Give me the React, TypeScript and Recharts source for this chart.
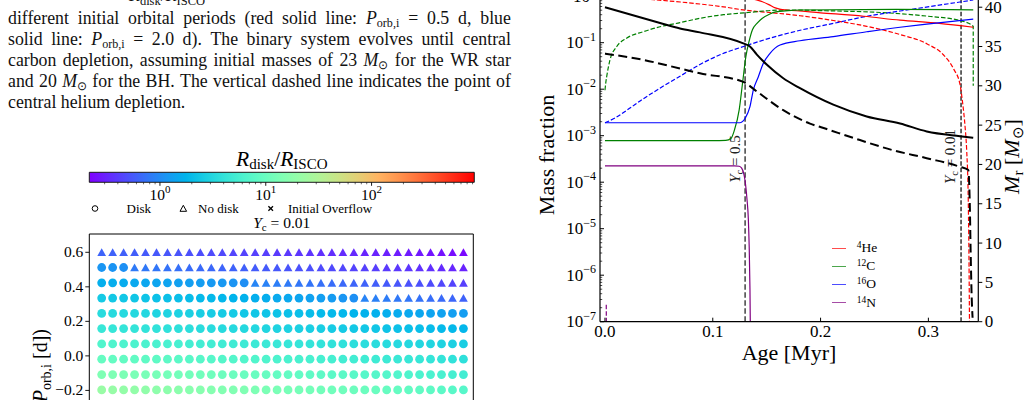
import React from "react";
import {
  ComposedChart,
  ScatterChart,
  Scatter,
  Line,
  Area,
  XAxis,
  YAxis,
  ReferenceLine,
  ReferenceArea,
  Legend,
} from "recharts";

const SERIF = '"Liberation Serif", "Times New Roman", Times, serif';

// ---------- disk formation grid at Y_c = 0.01 ----------
// log10 of the initial orbital period, one value per grid row (top to bottom)
const periodRows = [0.6, 0.512, 0.423, 0.335, 0.246, 0.158, 0.069, -0.019, -0.108, -0.197];
// column index of each model along the (hidden) horizontal axis
const gridCols = [
  0, 1, 2, 3, 4, 5, 6, 7, 8, 9, 10, 11, 12, 13, 14, 15, 16, 17, 18, 19, 20, 21, 22, 23, 24, 25, 26,
  27, 28, 29, 30, 31, 32, 33,
];
// log10(R_disk / R_ISCO) for every model, rows as in periodRows
const ratioRows: number[][] = [
  [-0.2, -0.21, -0.22, -0.23, -0.25, -0.26, -0.27, -0.28, -0.3, -0.31, -0.32, -0.33, -0.35, -0.36, -0.37, -0.38, -0.4, -0.41, -0.42, -0.43, -0.45, -0.46, -0.47, -0.48, -0.5, -0.51, -0.52, -0.54, -0.55, -0.56, -0.58, -0.59, -0.61, -0.63],
  [0.06, 0.05, 0.03, -0.09, -0.1, -0.11, -0.13, -0.14, -0.16, -0.17, -0.18, -0.2, -0.21, -0.22, -0.24, -0.25, -0.26, -0.28, -0.29, -0.3, -0.32, -0.33, -0.34, -0.36, -0.37, -0.38, -0.4, -0.41, -0.42, -0.44, -0.45, -0.47, -0.49, -0.51],
  [0.21, 0.2, 0.19, 0.17, 0.16, 0.15, 0.14, 0.12, 0.11, 0.1, 0.08, 0.07, 0.05, 0.02, -0.03, -0.05, -0.07, -0.09, -0.11, -0.12, -0.14, -0.16, -0.18, -0.2, -0.21, -0.23, -0.25, -0.27, -0.29, -0.3, -0.32, -0.34, -0.36, -0.38],
  [0.39, 0.38, 0.37, 0.36, 0.35, 0.33, 0.32, 0.31, 0.3, 0.28, 0.27, 0.26, 0.24, 0.23, 0.21, 0.2, 0.18, 0.17, 0.15, 0.13, 0.11, 0.09, 0.06, 0.03, -0.04, -0.06, -0.08, -0.1, -0.11, -0.13, -0.15, -0.17, -0.19, -0.21],
  [0.53, 0.52, 0.51, 0.5, 0.49, 0.47, 0.46, 0.45, 0.44, 0.42, 0.41, 0.4, 0.39, 0.37, 0.36, 0.35, 0.34, 0.32, 0.31, 0.3, 0.28, 0.27, 0.26, 0.24, 0.23, 0.22, 0.2, 0.19, 0.17, 0.16, 0.14, 0.13, 0.11, 0.1],
  [0.64, 0.63, 0.62, 0.61, 0.6, 0.59, 0.58, 0.57, 0.56, 0.54, 0.53, 0.52, 0.51, 0.5, 0.49, 0.48, 0.46, 0.45, 0.44, 0.43, 0.42, 0.4, 0.39, 0.38, 0.37, 0.36, 0.34, 0.33, 0.32, 0.31, 0.29, 0.28, 0.27, 0.26],
  [0.82, 0.81, 0.8, 0.79, 0.78, 0.77, 0.76, 0.75, 0.73, 0.72, 0.71, 0.7, 0.69, 0.68, 0.67, 0.66, 0.65, 0.63, 0.62, 0.61, 0.6, 0.59, 0.58, 0.56, 0.55, 0.54, 0.53, 0.51, 0.5, 0.49, 0.48, 0.46, 0.44, 0.42],
  [0.97, 0.96, 0.95, 0.94, 0.93, 0.92, 0.91, 0.9, 0.88, 0.87, 0.86, 0.85, 0.84, 0.83, 0.82, 0.81, 0.79, 0.78, 0.77, 0.76, 0.75, 0.74, 0.72, 0.71, 0.7, 0.69, 0.68, 0.66, 0.65, 0.64, 0.62, 0.61, 0.59, 0.57],
  [1.15, 1.14, 1.13, 1.12, 1.11, 1.1, 1.08, 1.07, 1.06, 1.05, 1.04, 1.02, 1.01, 1.0, 0.99, 0.98, 0.96, 0.95, 0.94, 0.93, 0.91, 0.9, 0.89, 0.88, 0.86, 0.85, 0.84, 0.82, 0.81, 0.79, 0.78, 0.76, 0.74, 0.72],
  [1.33, 1.32, 1.3, 1.29, 1.28, 1.26, 1.25, 1.24, 1.22, 1.21, 1.2, 1.18, 1.17, 1.16, 1.14, 1.13, 1.12, 1.1, 1.09, 1.08, 1.06, 1.05, 1.04, 1.02, 1.01, 1.0, 0.98, 0.97, 0.95, 0.94, 0.92, 0.9, 0.88, 0.86],
];
const pTicks = [-0.6, -0.4, -0.2, 0, 0.2, 0.4, 0.6];

// colour bar range of R_disk / R_ISCO
const cbMin = 0.215;
const cbMax = 935;

// ---------- abundance evolution, [age (Myr), value] ----------
const he4Surface = [[0, 0.98], [0.1, 0.978], [0.12, 0.97], [0.128, 0.95], [0.134, 0.9], [0.1407, 0.83], [0.146, 0.76], [0.152, 0.66], [0.158, 0.56], [0.163, 0.52], [0.1687, 0.505], [0.2, 0.44], [0.24, 0.37], [0.2737, 0.305], [0.31, 0.26], [0.3416, 0.215]];
const he4Center = [[0, 0.98], [0.02, 0.93], [0.045, 0.84], [0.07, 0.75], [0.088, 0.68], [0.11, 0.59], [0.13, 0.5], [0.155, 0.44], [0.181, 0.38], [0.2118, 0.3], [0.2428, 0.225], [0.2737, 0.15], [0.2985, 0.095], [0.3139, 0.055], [0.3235, 0.027], [0.3293, 0.0128], [0.3318, 0.005], [0.334, 0.0016], [0.3355, 5e-4], [0.337, 4e-5], [0.3378, 1e-6], [0.3384, 1e-8]];
const c12Surface = [[0, 7.8e-4], [0.1, 7.8e-4], [0.112, 7.9e-4], [0.117, 8.8e-4], [0.12, 1.3e-3], [0.1245, 3.6e-3], [0.1276, 0.0134], [0.1307, 0.05], [0.1338, 0.11], [0.1368, 0.19], [0.141, 0.26], [0.146, 0.335], [0.1525, 0.41], [0.1585, 0.46], [0.17, 0.49], [0.18, 0.505], [0.27, 0.52], [0.3416, 0.51]];
const c12Center = [[0, 0.0095], [0.0008, 0.014], [0.0016, 0.0186], [0.0046, 0.042], [0.0108, 0.082], [0.02, 0.125], [0.0355, 0.172], [0.051, 0.22], [0.0696, 0.27], [0.0881, 0.335], [0.11, 0.4], [0.13, 0.44], [0.1594, 0.5], [0.175, 0.505], [0.2, 0.49], [0.2674, 0.43], [0.3, 0.37], [0.3293, 0.3], [0.3416, 0.225], [0.34161, 0.0118]];
const o16Surface = [[0, 1.9e-3], [0.1253, 1.9e-3], [0.128, 2.05e-3], [0.13, 2.37e-3], [0.1345, 4.2e-3], [0.1376, 9.6e-3], [0.1423, 0.0186], [0.1469, 0.036], [0.1531, 0.059], [0.1624, 0.089], [0.1809, 0.11], [0.2118, 0.135], [0.2428, 0.172], [0.2737, 0.215], [0.2985, 0.25], [0.3416, 0.32]];
const o16Center = [[0, 1.9e-3], [0.0093, 2.4e-3], [0.0201, 3.5e-3], [0.0355, 6.2e-3], [0.051, 0.0105], [0.0696, 0.019], [0.0881, 0.034], [0.1067, 0.055], [0.13, 0.085], [0.153, 0.125], [0.181, 0.185], [0.2118, 0.26], [0.2428, 0.37], [0.2737, 0.48], [0.3016, 0.6], [0.3293, 0.75], [0.3416, 0.83]];
const n14Surface = [[0, 2.25e-4], [0.12, 2.25e-4], [0.1245, 2.2e-4], [0.1268, 2.0e-4], [0.1285, 1.6e-4], [0.1299, 1.1e-4], [0.1317, 4.4e-5], [0.133, 1.6e-5], [0.1338, 4e-6], [0.1345, 5e-7], [0.1352, 1e-8]];
const n14Center = [[0.0012, 2.3e-7], [0.0015, 1e-8]];
// mass coordinates (right axis, M_sun)
const massOuter = [[0, 40.0], [0.0511, 38.0], [0.0696, 37.3], [0.0881, 36.8], [0.1283, 35.4], [0.1345, 35.0], [0.1407, 34.0], [0.15, 32.7], [0.1654, 30.96], [0.1809, 29.7], [0.2118, 27.6], [0.2428, 26.1], [0.2737, 25.2], [0.2985, 24.2], [0.3293, 23.6], [0.3416, 23.4]];
const massInner = [[0, 34.1], [0.0355, 33.3], [0.0696, 32.2], [0.0881, 31.6], [0.1283, 30.5], [0.1407, 29.3], [0.1654, 26.9], [0.1902, 25.2], [0.2057, 24.5], [0.2365, 23.1], [0.2674, 21.8], [0.2984, 20.8], [0.3293, 19.7], [0.337, 19.3], [0.3384, 15], [0.3392, 9], [0.3402, 3], [0.341, 0.5]];

const ageTicks = [0, 0.1, 0.2, 0.3];
const massTicks = [0, 5, 10, 15, 20, 25, 30, 35, 40];
const ycHalf = 0.13; // Y_c = 0.5
const ycEnd = 0.3303; // Y_c = 0.01

const isotopes = [
  { mass: "4", el: "He", color: "#ff0000" },
  { mass: "12", el: "C", color: "#008000" },
  { mass: "16", el: "O", color: "#0000ff" },
  { mass: "14", el: "N", color: "#800080" },
];

const toPts = (arr: number[][]) => arr.map(([age, v]) => ({ age, v }));

// matplotlib "rainbow" colormap
function rainbow(t: number) {
  const c = Math.min(1, Math.max(0, t));
  const r = Math.min(1, Math.abs(2 * c - 0.5));
  const g = Math.sin(Math.PI * c);
  const b = Math.cos((Math.PI * c) / 2);
  return `rgb(${Math.round(r * 255)},${Math.round(g * 255)},${Math.round(b * 255)})`;
}
const lgMin = Math.log10(cbMin);
const lgMax = Math.log10(cbMax);
const ratioColor = (lr: number) => rainbow((lr - lgMin) / (lgMax - lgMin));

function logTicks(lo: number, hi: number) {
  const out: number[] = [];
  for (let e = Math.floor(Math.log10(lo)); e <= Math.ceil(Math.log10(hi)); e++) {
    for (let k = 1; k < 10; k++) {
      const v = k * Math.pow(10, e);
      if (v >= lo * 0.999 && v <= hi * 1.001) out.push(v);
    }
  }
  return out;
}
const isDecade = (v: number) => Math.abs(Math.log10(v) - Math.round(Math.log10(v))) < 1e-6;

const gridPoints = periodRows.flatMap((logP, r) =>
  gridCols.map((col) => ({ col, logP, logRatio: ratioRows[r][col] }))
);

// ---------- caption text ----------
const Porb = () => (
  <span>
    <i>P</i>
    <sub style={{ fontSize: "0.68em", verticalAlign: "-0.25em", lineHeight: 0 }}>orb,i</sub>
  </span>
);
const Msun = () => (
  <span>
    <i>M</i>
    <sub style={{ fontSize: "0.68em", verticalAlign: "-0.25em", lineHeight: 0 }}>⊙</sub>
  </span>
);
const captionLines: React.ReactNode[][] = [
  ["different", "initial", "orbital", "periods", "(red", "solid", "line:", <Porb />, "=", "0.5", "d,", "blue"],
  ["solid", "line:", <Porb />, "=", "2.0", "d).", "The", "binary", "system", "evolves", "until", "central"],
  ["carbon", "depletion,", "assuming", "initial", "masses", "of", "23", <Msun />, "for", "the", "WR", "star"],
  ["and", "20", <Msun />, "for", "the", "BH.", "The", "vertical", "dashed", "line", "indicates", "the", "point", "of"],
];

function Caption() {
  return (
    <div style={{ position: "absolute", left: 8, top: 0, width: 503, fontFamily: SERIF, fontSize: 17.8, lineHeight: "21px", color: "#111" }}>
      {captionLines.map((words, i) => (
        <div key={i} style={{ position: "absolute", top: 7.5 + 21 * i, left: 0, width: 503, display: "flex", justifyContent: "space-between", alignItems: "baseline", columnGap: 3, whiteSpace: "nowrap" }}>
          {words.map((w, j) => (
            <span key={j}>{w}</span>
          ))}
        </div>
      ))}
      <div style={{ position: "absolute", top: 7.5 + 21 * 4, left: 0, whiteSpace: "nowrap" }}>central helium depletion.</div>
    </div>
  );
}

// ---------- left panel pieces ----------
const CbTick = ({ x, y, payload }: any) => {
  const major = isDecade(payload.value);
  return (
    <g>
      <line x1={x} x2={x} y1={y} y2={y + (major ? 3.5 : 2)} stroke="#000" strokeWidth={major ? 0.9 : 0.6} />
      {major && (
        <text x={x} y={y + 17.5} textAnchor="middle" fontFamily={SERIF} fontSize={15.5} fill="#000">
          10<tspan dy={-6.5} fontSize={11}>{Math.round(Math.log10(payload.value))}</tspan>
        </text>
      )}
    </g>
  );
};

const cbSpan = [
  { x: cbMin, y: 1 },
  { x: cbMax, y: 1 },
];

function ColorBar() {
  return (
    <ComposedChart width={520} height={72} data={cbSpan} margin={{ top: 32.3, right: 45.7, bottom: 0, left: 89.3 }}>
      <XAxis dataKey="x" type="number" scale="log" domain={[cbMin, cbMax]} allowDataOverflow ticks={logTicks(cbMin, cbMax)} interval={0} axisLine={false} tickLine={false} tickSize={0} tickMargin={0} tick={<CbTick />} height={29.7} />
      <YAxis hide type="number" domain={[0, 1]} allowDataOverflow />
      <Area dataKey="y" type="linear" baseValue={0} fill="url(#rainbowGrad)" fillOpacity={1} stroke="none" dot={false} activeDot={false} isAnimationActive={false} />
      <ReferenceArea x1={cbMin} x2={cbMax} y1={0} y2={1} fill="none" stroke="#000" strokeWidth={0.9} ifOverflow="visible" />
    </ComposedChart>
  );
}

const PTick = ({ x, y, payload }: any) => (
  <g>
    <line x1={x} x2={x - 4} y1={y} y2={y} stroke="#000" strokeWidth={0.9} />
    <text x={x - 6} y={y + 5} textAnchor="end" fontFamily={SERIF} fontSize={15.5} fill="#000">
      {payload.value.toFixed(1).replace("-", "\u2212")}
    </text>
  </g>
);

const GridMarker = (props: any) => {
  const { cx, cy, payload } = props;
  const fill = ratioColor(payload.logRatio);
  if (payload.logRatio > 0) return <circle cx={cx} cy={cy} r={4.4} fill={fill} />;
  return <path d={`M${cx},${cy - 4} L${cx + 4.4},${cy + 3.8} L${cx - 4.4},${cy + 3.8} Z`} fill={fill} />;
};

const PeriodLabel = () => (
  <text transform="translate(47,329) rotate(-90)" textAnchor="end" fontFamily={SERIF} fontSize={20} fill="#000">
    log(<tspan fontStyle="italic">P</tspan>
    <tspan fontSize={14} dy={4}>orb,i</tspan>
    <tspan dy={-4}> [d])</tspan>
  </text>
);

function DiskGrid() {
  return (
    <ScatterChart width={520} height={500} margin={{ top: 234, right: 46.7, bottom: 6, left: 0 }}>
      <XAxis type="number" dataKey="col" domain={[-1.13, 33.9]} allowDataOverflow hide />
      <YAxis type="number" dataKey="logP" domain={[-0.8, 0.706]} allowDataOverflow ticks={pTicks} interval={0} width={89.3} axisLine={false} tickLine={false} tickSize={0} tickMargin={0} tick={<PTick />} label={<PeriodLabel />} />
      <ReferenceArea x1={-1.13} x2={33.9} y1={-0.8} y2={0.706} fill="none" stroke="#000" strokeWidth={1} ifOverflow="visible" />
      <Scatter data={gridPoints} shape={(p: any) => <GridMarker {...p} />} isAnimationActive={false} />
    </ScatterChart>
  );
}

function GridAnnotations() {
  return (
    <svg width={520} height={240} style={{ position: "absolute", left: 0, top: 0 }} fontFamily={SERIF}>
      <defs>
        <linearGradient id="rainbowGrad" x1="0" x2="1" y1="0" y2="0">
          {Array.from({ length: 21 }, (_, i) => (
            <stop key={i} offset={i / 20} stopColor={rainbow(i / 20)} />
          ))}
        </linearGradient>
      </defs>
      <text x={129} y={1} fontSize={17.8} fill="#111">
        <tspan fontStyle="italic">R</tspan>
        <tspan fontSize={12.5} dy={3.5}>disk</tspan>
        <tspan dy={-3.5}>/</tspan>
        <tspan fontStyle="italic">R</tspan>
        <tspan fontSize={12.5} dy={3.5}>ISCO</tspan>
      </text>
      <text x={281.8} y={166} textAnchor="middle" fontSize={21.5} fill="#000">
        <tspan fontStyle="italic">R</tspan>
        <tspan fontSize={15} dy={3.3}>disk</tspan>
        <tspan dy={-3.3}>/</tspan>
        <tspan fontStyle="italic">R</tspan>
        <tspan fontSize={15} dy={3.3}>ISCO</tspan>
      </text>
      <circle cx={95} cy={208.5} r={2.8} fill="none" stroke="#000" strokeWidth={1} />
      <text x={126.5} y={212.7} fontSize={13} fill="#000">Disk</text>
      <path d="M183.3,205.3 L186.6,211.3 L180,211.3 Z" fill="none" stroke="#000" strokeWidth={1} />
      <text x={198} y={212.7} fontSize={13} fill="#000">No disk</text>
      <path d="M268.4,206.2 L273,210.8 M273,206.2 L268.4,210.8" stroke="#000" strokeWidth={1.3} />
      <text x={288} y={212.7} fontSize={13} fill="#000">Initial Overflow</text>
      <text x={281.8} y={228.3} textAnchor="middle" fontSize={15.5} fill="#000">
        <tspan fontStyle="italic">Y</tspan>
        <tspan fontSize={11} dy={3}>c</tspan>
        <tspan dy={-3}> = 0.01</tspan>
      </text>
    </svg>
  );
}

// ---------- abundance panel ----------
const FracTick = ({ x, y, payload }: any) => {
  const major = isDecade(payload.value);
  const p = Math.round(Math.log10(payload.value));
  return (
    <g>
      <line x1={x} x2={x + (major ? 4 : 2.2)} y1={y} y2={y} stroke="#000" strokeWidth={major ? 1 : 0.7} />
      {major && (
        <text x={x - 4} y={y + 5.5} textAnchor="end" fontFamily={SERIF} fontSize={17} fill="#000">
          10<tspan dy={-7.5} fontSize={12}>{p === 0 ? "0" : `\u2212${-p}`}</tspan>
        </text>
      )}
    </g>
  );
};

const MassTick = ({ x, y, payload }: any) => (
  <g>
    <line x1={x} x2={x + 4} y1={y} y2={y} stroke="#000" strokeWidth={1} />
    <text x={x + 6.5} y={y + 5.5} fontFamily={SERIF} fontSize={17} fill="#000">{payload.value}</text>
  </g>
);

const AgeTick = ({ x, y, payload }: any) => (
  <g>
    <line x1={x} x2={x} y1={y} y2={y - 4} stroke="#000" strokeWidth={1} />
    <text x={x} y={y + 15.5} textAnchor="middle" fontFamily={SERIF} fontSize={17} fill="#000">{payload.value.toFixed(1)}</text>
  </g>
);

const FracLabel = () => (
  <text transform="translate(34,199) rotate(-90)" textAnchor="middle" fontFamily={SERIF} fontSize={22} fill="#000">Mass fraction</text>
);
const MassLabel = () => (
  <text transform="translate(499,200.5) rotate(-90)" textAnchor="middle" fontFamily={SERIF} fontSize={22} fill="#000">
    <tspan fontStyle="italic">M</tspan>
    <tspan fontSize={15} dy={4}>r</tspan>
    <tspan dy={-4}> [</tspan>
    <tspan fontStyle="italic">M</tspan>
    <tspan fontSize={15} dy={4}>⊙</tspan>
    <tspan dy={-4}>]</tspan>
  </text>
);
const AgeLabel = () => (
  <text x={269} y={404} textAnchor="middle" fontFamily={SERIF} fontSize={22} fill="#000">Age [Myr]</text>
);

const ycLabel = (value: string, dx: number, yMid: number) => (props: any) => {
  const x = props.viewBox.x + dx;
  return (
    <text transform={`translate(${x},${yMid}) rotate(-90)`} textAnchor="middle" fontFamily={SERIF} fontSize={15} fill="#222">
      <tspan fontStyle="italic">Y</tspan>
      <tspan fontSize={10.5} dy={3}>c</tspan>
      <tspan dy={-3}> = {value}</tspan>
    </text>
  );
};

const IsoLegend = () => (
  <div style={{ fontFamily: SERIF, fontSize: 13.5, lineHeight: "18.1px", color: "#000" }}>
    {isotopes.map((iso) => (
      <div key={iso.el} style={{ display: "flex", alignItems: "center", height: 18.1 }}>
        <span style={{ display: "inline-block", width: 14.5, borderTop: `1.6px solid ${iso.color}`, opacity: 0.7, marginRight: 10.5 }} />
        <span>
          <sup style={{ fontSize: 9.5, verticalAlign: "0.45em", lineHeight: 0 }}>{iso.mass}</sup>
          {iso.el}
        </span>
      </div>
    ))}
  </div>
);

const solid = { strokeWidth: 1.2 };
const dashed = { strokeWidth: 1.2, strokeDasharray: "4.5 2" };

function AbundanceChart() {
  return (
    <ComposedChart width={510} height={425.7} margin={{ top: 40.2, right: 0, bottom: 0, left: 0 }}>
      <XAxis type="number" dataKey="age" domain={[-0.0046, 0.3463]} allowDataOverflow ticks={ageTicks} interval={0} height={60} axisLine={{ stroke: "#000", strokeWidth: 1.2 }} tickLine={false} tickSize={0} tickMargin={0} tick={<AgeTick />} label={<AgeLabel />} />
      <YAxis yAxisId="frac" type="number" scale="log" domain={[1e-7, 1]} allowDataOverflow ticks={logTicks(1e-7, 1)} interval={0} width={80} axisLine={{ stroke: "#000", strokeWidth: 1.2 }} tickLine={false} tickSize={0} tickMargin={0} tick={<FracTick />} label={<FracLabel />} />
      <YAxis yAxisId="mass" orientation="right" type="number" domain={[0, 41.4]} allowDataOverflow ticks={massTicks} interval={0} width={51.7} axisLine={{ stroke: "#000", strokeWidth: 1.2 }} tickLine={false} tickSize={0} tickMargin={0} tick={<MassTick />} label={<MassLabel />} />

      <ReferenceLine yAxisId="frac" x={ycHalf} stroke="#444" strokeWidth={1.5} strokeDasharray="5.5 2.5" label={ycLabel("0.5", -5, 203)} />
      <ReferenceLine yAxisId="frac" x={ycEnd} stroke="#000" strokeWidth={1.2} strokeDasharray="4.5 2" label={ycLabel("0.01", -6, 200.5)} />

      <Line yAxisId="frac" data={toPts(he4Center)} dataKey="v" type="monotone" stroke="#ff0000" {...dashed} dot={false} isAnimationActive={false} />
      <Line yAxisId="frac" data={toPts(c12Center)} dataKey="v" type="monotone" stroke="#008000" {...dashed} dot={false} isAnimationActive={false} />
      <Line yAxisId="frac" data={toPts(o16Center)} dataKey="v" type="monotone" stroke="#0000ff" {...dashed} dot={false} isAnimationActive={false} />
      <Line yAxisId="frac" data={toPts(n14Center)} dataKey="v" type="linear" stroke="#800080" {...dashed} dot={false} isAnimationActive={false} />
      <Line yAxisId="frac" data={toPts(he4Surface)} dataKey="v" type="monotone" stroke="#ff0000" {...solid} dot={false} isAnimationActive={false} />
      <Line yAxisId="frac" data={toPts(c12Surface)} dataKey="v" type="monotone" stroke="#008000" {...solid} dot={false} isAnimationActive={false} />
      <Line yAxisId="frac" data={toPts(o16Surface)} dataKey="v" type="monotone" stroke="#0000ff" {...solid} dot={false} isAnimationActive={false} />
      <Line yAxisId="frac" data={toPts(n14Surface)} dataKey="v" type="monotone" stroke="#800080" {...solid} dot={false} isAnimationActive={false} />
      <Line yAxisId="mass" data={toPts(massOuter)} dataKey="v" type="monotone" stroke="#000" strokeWidth={2} dot={false} isAnimationActive={false} />
      <Line yAxisId="mass" data={toPts(massInner)} dataKey="v" type="monotone" stroke="#000" strokeWidth={2} strokeDasharray="9 4.5" dot={false} isAnimationActive={false} />

      <Legend layout="vertical" align="center" verticalAlign="middle" content={() => <IsoLegend />} wrapperStyle={{ left: 311.7, top: 283.3, width: "auto", height: "auto" }} />
    </ComposedChart>
  );
}

export default function App() {
  return (
    <div style={{ position: "fixed", left: 0, top: 0, width: 1030, height: 400, overflow: "hidden", background: "#fff", fontFamily: SERIF }}>
      <Caption />
      <GridAnnotations />
      <div style={{ position: "absolute", left: 0, top: 140 }}>
        <ColorBar />
      </div>
      <div style={{ position: "absolute", left: 0, top: 0 }}>
        <DiskGrid />
      </div>
      <div style={{ position: "absolute", left: 520, top: -44 }}>
        <AbundanceChart />
      </div>
    </div>
  );
}
